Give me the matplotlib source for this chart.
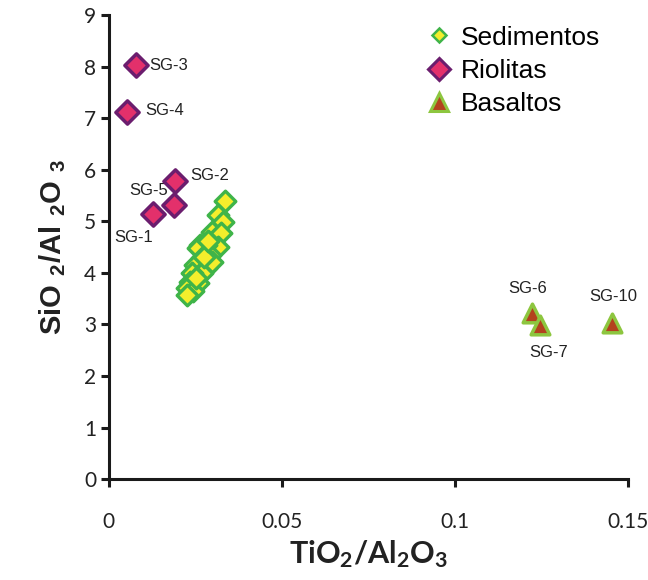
import matplotlib
matplotlib.use('Agg')
import matplotlib.pyplot as plt
from matplotlib.lines import Line2D

# --- data ---
sed_x = [0.0335, 0.0314, 0.0330, 0.0297, 0.0324, 0.0316, 0.0282, 0.0263,
         0.0258, 0.0292, 0.0268, 0.0249, 0.0282, 0.0297, 0.0268, 0.0239,
         0.0234, 0.0258, 0.0225, 0.0244, 0.0226, 0.0275, 0.0287, 0.0252]
sed_y = [5.40, 5.12, 4.98, 4.80, 4.77, 4.51, 4.54, 4.54,
         4.49, 4.35, 4.29, 4.16, 4.09, 4.22, 3.99, 3.99,
         3.83, 3.80, 3.70, 3.64, 3.58, 4.30, 4.62, 3.90]

rio_names = ['SG-3', 'SG-4', 'SG-2', 'SG-5', 'SG-1']
rio_x = [0.0078, 0.0052, 0.0190, 0.0188, 0.0127]
rio_y = [8.03, 7.12, 5.78, 5.32, 5.15]

bas_names = ['SG-6', 'SG-7', 'SG-10']
bas_x = [0.1222, 0.1246, 0.1455]
bas_y = [3.22, 2.99, 3.02]

# label offsets in points (dx, dy, ha)
rio_lab = {'SG-3': (10, 0, 'left'), 'SG-4': (13, 1, 'left'),
           'SG-2': (11, 4, 'left'), 'SG-5': (-4, 10, 'right'),
           'SG-1': (0, -17, 'right')}
bas_lab = {'SG-6': (-3, 18, 'center'), 'SG-7': (6, -20, 'center'),
           'SG-10': (1, 19, 'center')}

SED_FACE, SED_EDGE = '#f4ee2c', '#3fb449'
RIO_FACE, RIO_EDGE = '#e3306b', '#6b1d6e'
BAS_FACE, BAS_EDGE = '#b3421e', '#8dc63f'

plt.rcParams['mathtext.fontset'] = 'custom'
plt.rcParams['mathtext.bf'] = 'Lato:bold'
plt.rcParams['mathtext.sf'] = 'Liberation Sans:bold'
plt.rcParams['mathtext.rm'] = 'Lato'

fig = plt.figure(figsize=(6.48, 5.80), dpi=100)
ax = fig.add_axes([0.168, 0.174, 0.801, 0.800])

ax.scatter(sed_x, sed_y, marker='D', s=110, facecolor=SED_FACE,
           edgecolor=SED_EDGE, linewidths=2.4, zorder=3)
ax.scatter(rio_x, rio_y, marker='D', s=140, facecolor=RIO_FACE,
           edgecolor=RIO_EDGE, linewidths=2.5, zorder=4)
ax.scatter(bas_x, bas_y, marker='^', s=180, facecolor=BAS_FACE,
           edgecolor=BAS_EDGE, linewidths=2.5, zorder=4)

for n, x, y in zip(rio_names, rio_x, rio_y):
    dx, dy, ha = rio_lab[n]
    ax.annotate(n, (x, y), xytext=(dx, dy), textcoords='offset points',
                ha=ha, va='center', fontsize=12, family='Liberation Sans',
                color='#222222')
for n, x, y in zip(bas_names, bas_x, bas_y):
    dx, dy, ha = bas_lab[n]
    ax.annotate(n, (x, y), xytext=(dx, dy), textcoords='offset points',
                ha=ha, va='center', fontsize=12, family='Liberation Sans',
                color='#222222')

ax.set_xlim(0, 0.15)
ax.set_ylim(0, 9)
ax.set_xticks([0, 0.05, 0.1, 0.15])
ax.set_xticklabels(['0', '0.05', '0.1', '0.15'])
ax.set_yticks(range(0, 10))
for s in ['top', 'right']:
    ax.spines[s].set_visible(False)
for s in ['left', 'bottom']:
    ax.spines[s].set_linewidth(2.2)
    ax.spines[s].set_color('#1a1a1a')
ax.tick_params(direction='out', length=6, width=2.2, color='#1a1a1a',
               labelsize=15)
ax.tick_params(axis='x', pad=18)
ax.tick_params(axis='y', pad=3)
for lbl in ax.get_xticklabels() + ax.get_yticklabels():
    lbl.set_family('Lato')
    lbl.set_color('#222222')

ax.set_xlabel(r'$\mathbf{TiO_2/Al_2O_3}$', fontsize=22, labelpad=4,
              color='#222222')
ax.set_ylabel(r'$\mathsf{SiO\ {}_2/Al\ {}_2O\ {}_3}$', fontsize=21,
              labelpad=12, color='#222222')

handles = [
    Line2D([], [], ls='', marker='D', ms=7, mfc=SED_FACE, mec=SED_EDGE, mew=1.8),
    Line2D([], [], ls='', marker='D', ms=11, mfc=RIO_FACE, mec=RIO_EDGE, mew=2.2),
    Line2D([], [], ls='', marker='^', ms=13, mfc=BAS_FACE, mec=BAS_EDGE, mew=2.2),
]
ax.legend(handles, ['Sedimentos', 'Riolitas', 'Basaltos'], loc='upper right',
          bbox_to_anchor=(0.967, 1.0), frameon=False,
          prop={'family': 'Liberation Sans', 'size': 19},
          handletextpad=0.25, labelspacing=0.35, borderaxespad=0.0,
          handlelength=1.2)

fig.savefig('out.png', dpi=100)
